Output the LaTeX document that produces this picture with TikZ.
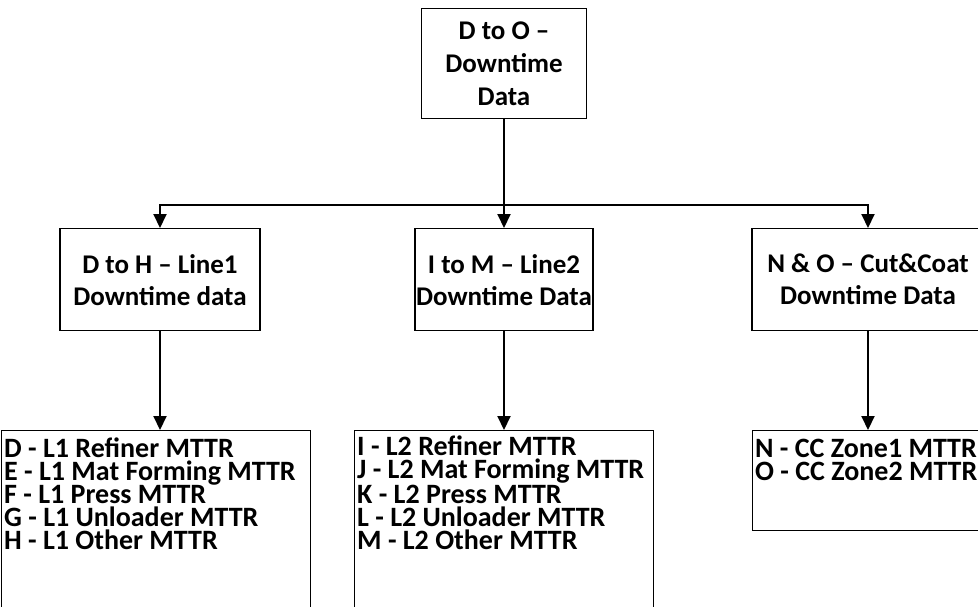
\documentclass[tikz,border=0pt]{standalone}
\usepackage{fontspec}
\setmainfont{Carlito}
\usetikzlibrary{arrows.meta}
\begin{document}
\begin{tikzpicture}[x=1pt,y=-1pt,
  box/.style={draw, line width=1.3pt, inner sep=0pt},
  conn/.style={line width=2pt, -{Triangle[length=14pt,width=13pt]}},
  hd/.style={font=\bfseries\fontsize{27}{33}\selectfont, align=center},
  hd2/.style={font=\bfseries\fontsize{27}{32}\selectfont, align=center},
  lst/.style={font=\bfseries\fontsize{28}{23}\selectfont, align=left, anchor=base west, inner sep=0pt}]
\useasboundingbox (0,0) rectangle (978,606);
\clip (0,0) rectangle (978,606);
% top
\node[box, hd, anchor=north, minimum width=165pt, minimum height=110pt] (top) at (504,8) {D to O –\\Downtime\\Data};
% middle row
\node[box, hd2, anchor=north, minimum width=200pt, minimum height=102pt] (L) at (160,228) {D to H – Line1\\Downtime data};
\node[box, hd2, anchor=north, minimum width=160pt, minimum height=102pt, inner xsep=1pt] (M) at (504,228) {I to M – Line2\\Downtime Data};
\node[box, hd2, anchor=north, minimum width=232pt, minimum height=102pt] (R) at (868,228) {N \& O – Cut\&Coat\\Downtime Data};
% bottom row boxes
\node[box, anchor=north west, minimum width=309pt, minimum height=200pt] (BL) at (1,430) {};
\node[box, anchor=north west, minimum width=299pt, minimum height=200pt] (BM) at (354,430) {};
\node[box, anchor=north west, minimum width=232pt, minimum height=100pt] (BR) at (752,430) {};
% lists (anchor = baseline of last line)
\node[lst] (tL) at (4,549) {D - L1 Refiner MTTR\\E - L1 Mat Forming MTTR\\F - L1 Press MTTR\\G - L1 Unloader MTTR\\H - L1 Other MTTR};
\node[lst] (tM) at (357,549) {I - L2 Refiner MTTR\\J - L2 Mat Forming MTTR\\K - L2 Press MTTR\\L - L2 Unloader MTTR\\M - L2 Other MTTR};
\node[lst] (tR) at (755,480) {N - CC Zone1 MTTR\\O - CC Zone2 MTTR};
% connectors
\coordinate (j) at ([yshift=-86pt]top.south);
\draw[conn] (top.south) -- (M.north);
\draw[conn] (j) -| (L.north);
\draw[conn] (j) -| (R.north);
\draw[conn] (L.south) -- (L.south |- BL.north);
\draw[conn] (M.south) -- (M.south |- BM.north);
\draw[conn] (R.south) -- (R.south |- BR.north);
\end{tikzpicture}
\end{document}
